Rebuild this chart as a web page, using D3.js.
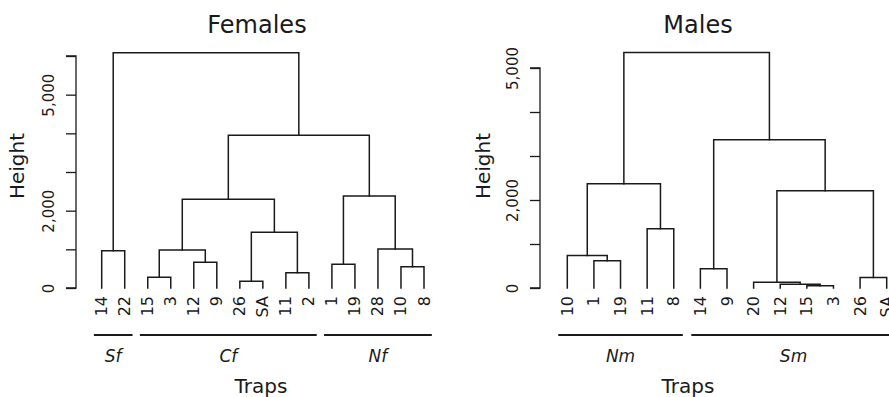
<!DOCTYPE html>
<html>
<head>
<meta charset="utf-8">
<script src="https://cdn.jsdelivr.net/npm/d3@7"></script>
<style>
  body { margin: 0; background: #fff; }
  svg { display: block; font-family: "DejaVu Sans", Verdana, sans-serif; }
</style>
</head>
<body>
<svg id="chart" width="889" height="397"></svg>
<script>
// ---------- DATA ----------
const femaleLabels = ["14","22","15","3","12","9","26","SA","11","2","1","19","28","10","8"];
// R-style merge matrix: negative = leaf (1-based), positive = earlier merge step
const femaleMerge = [[-1,-2],[-3,-4],[-5,-6],[2,3],[-7,-8],[-9,-10],[5,6],[4,7],[-11,-12],[-14,-15],[-13,10],[9,11],[8,12],[1,13]];
const femaleHeights = [965,277,665,983,173,396,1440,2294,613,551,1009,2379,3949,6085];
const femaleGroups = [{name:"Sf",from:"14",to:"22"},{name:"Cf",from:"15",to:"2"},{name:"Nf",from:"1",to:"8"}];

const maleLabels = ["10","1","19","11","8","14","9","20","12","15","3","26","SA"];
const maleMerge = [[-2,-3],[-1,1],[-4,-5],[2,3],[-10,-11],[-9,5],[-8,6],[-12,-13],[7,8],[-6,-7],[10,9],[4,11]];
const maleHeights = [620,741,1348,2370,50,85,130,241,2212,439,3370,5355];
const maleGroups = [{name:"Nm",from:"10",to:"8"},{name:"Sm",from:"14",to:"SA"}];

const yTicksFemale = [0,1000,2000,3000,4000,5000,6000];
const yTicksMale = [0,1000,2000,3000,4000,5000];
const yTickLabels = {0:"0",2000:"2,000",5000:"5,000"};

// ---------- DRAW ----------
const svg = d3.select("#chart");
const ink = "#1a1a1a";

function drawDendro(cfg) {
  const g = svg.append("g");
  const x = d3.scalePoint().domain(cfg.labels).range(cfg.xRange);
  const y = d3.scaleLinear().domain(cfg.yDomain).range(cfg.yRange);
  const step = x.step();

  const nodes = [];
  const getNode = id => id < 0
    ? {x: x(cfg.labels[-id - 1]), h: 0}
    : nodes[id - 1];
  cfg.merge.forEach((m, i) => {
    const a = getNode(m[0]), b = getNode(m[1]);
    nodes.push({x: (a.x + b.x) / 2, h: cfg.heights[i], a, b});
  });

  const line = d3.line().x(d => d[0]).y(d => y(d[1]));
  const segs = nodes.map(n => [[n.a.x, n.a.h], [n.a.x, n.h], [n.b.x, n.h], [n.b.x, n.b.h]]);
  g.selectAll("path.seg").data(segs).join("path")
    .attr("class", "seg")
    .attr("d", line)
    .attr("fill", "none")
    .attr("stroke", ink)
    .attr("stroke-width", 1.5)
    .attr("stroke-linejoin", "miter")
    .attr("stroke-linecap", "square");

  // y axis
  const axis = d3.axisLeft(y).tickValues(cfg.yTicks).tickSize(10)
    .tickFormat(d => yTickLabels[d] || "");
  const ag = g.append("g").attr("transform", `translate(${cfg.axisX},0)`).call(axis);
  ag.select(".domain").attr("stroke", ink).attr("stroke-width", 1.3)
    .attr("d", `M-10,${y(cfg.yTicks[0])}H0V${y(cfg.yTicks[cfg.yTicks.length-1])}H-10`);
  ag.selectAll(".tick line").attr("stroke", ink).attr("stroke-width", 1.3);
  ag.selectAll(".tick text")
    .attr("font-size", 15).attr("fill", ink)
    .attr("font-family", "DejaVu Sans, sans-serif")
    .attr("transform", "rotate(-90)")
    .attr("x", 0).attr("y", -27).attr("dy", 0)
    .attr("text-anchor", "middle")
    .attr("dominant-baseline", "central");

  // leaf labels
  g.selectAll("text.leaf").data(cfg.labels).join("text")
    .attr("class", "leaf")
    .attr("transform", d => `translate(${x(d)},${cfg.labelY}) rotate(-90)`)
    .attr("text-anchor", "end")
    .attr("dominant-baseline", "central")
    .attr("font-size", 16).attr("fill", ink)
    .text(d => d);

  // groups
  const pad = step * 0.34;
  cfg.groups.forEach(gr => {
    const x0 = x(gr.from) - pad, x1 = x(gr.to) + pad;
    g.append("line").attr("x1", x0).attr("x2", x1)
      .attr("y1", cfg.groupY).attr("y2", cfg.groupY)
      .attr("stroke", ink).attr("stroke-width", 2.2);
    g.append("text").attr("x", (x0 + x1) / 2).attr("y", cfg.groupY + 27)
      .attr("text-anchor", "middle").attr("font-size", 17)
      .attr("font-style", "italic").attr("fill", ink).text(gr.name);
  });

  // titles
  g.append("text").attr("x", cfg.titleX).attr("y", 33)
    .attr("text-anchor", "middle").attr("font-size", 24).attr("fill", ink).text(cfg.title);
  g.append("text").attr("x", cfg.trapsX).attr("y", 393)
    .attr("text-anchor", "middle").attr("font-size", 20).attr("fill", ink).text("Traps");
  g.append("text")
    .attr("transform", `translate(${cfg.heightX},${cfg.heightY}) rotate(-90)`)
    .attr("text-anchor", "middle").attr("dominant-baseline", "central")
    .attr("font-size", 20).attr("fill", ink).text("Height");
}

drawDendro({
  labels: femaleLabels, merge: femaleMerge, heights: femaleHeights, groups: femaleGroups,
  xRange: [101.7, 424], yDomain: [0, 6000], yRange: [288, 56], yTicks: yTicksFemale,
  axisX: 76, labelY: 296, groupY: 335, title: "Females", titleX: 257, trapsX: 261,
  heightX: 17, heightY: 166
});
drawDendro({
  labels: maleLabels, merge: maleMerge, heights: maleHeights, groups: maleGroups,
  xRange: [567.3, 886.7], yDomain: [0, 5000], yRange: [288, 68], yTicks: yTicksMale,
  axisX: 540, labelY: 296, groupY: 335, title: "Males", titleX: 698, trapsX: 688,
  heightX: 483, heightY: 166
});
</script>
</body>
</html>
